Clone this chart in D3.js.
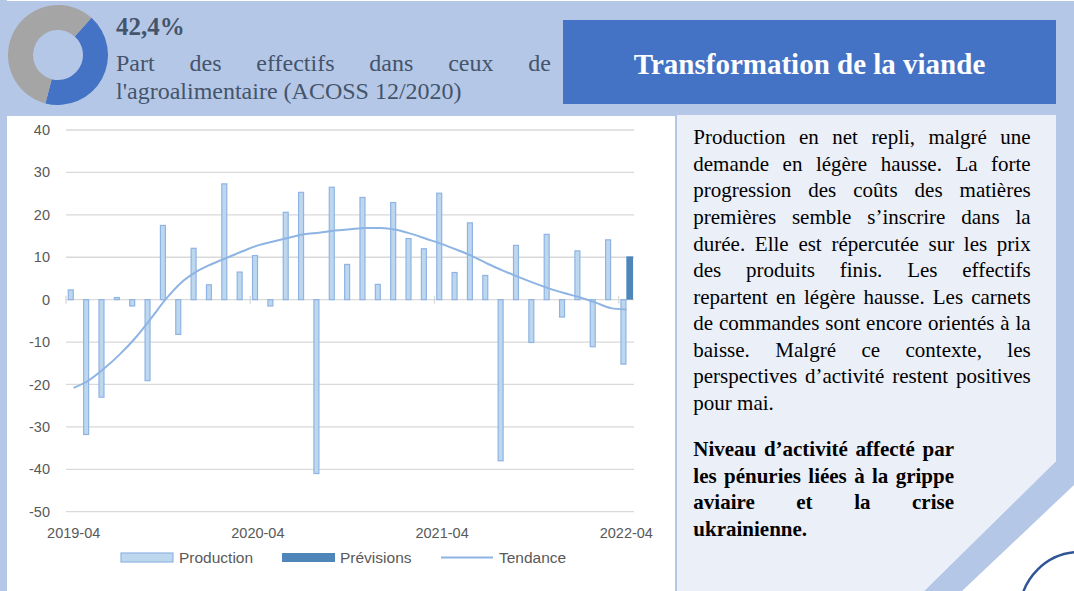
<!DOCTYPE html>
<html><head><meta charset="utf-8">
<script src="https://cdn.jsdelivr.net/npm/d3@7"></script>
<style>html,body{margin:0;padding:0;background:#fff;}svg{display:block;}</style>
</head><body>
<svg id="c" width="1074" height="591"></svg>
<script>
// ---------- DATA ----------
const months = ["2019-04","2019-05","2019-06","2019-07","2019-08","2019-09","2019-10","2019-11","2019-12",
  "2020-01","2020-02","2020-03","2020-04","2020-05","2020-06","2020-07","2020-08","2020-09","2020-10","2020-11","2020-12",
  "2021-01","2021-02","2021-03","2021-04","2021-05","2021-06","2021-07","2021-08","2021-09","2021-10","2021-11","2021-12",
  "2022-01","2022-02","2022-03","2022-04"];
const production = [2.3,-31.8,-23.0,0.5,-1.5,-19.1,17.5,-8.2,12.1,3.5,27.3,6.5,10.4,-1.5,20.6,25.3,-41.0,26.5,8.3,24.1,3.6,22.9,14.4,12.0,25.1,6.4,18.1,5.7,-38.0,12.8,-10.1,15.4,-4.1,11.5,-11.1,14.1,-15.2];
const previsions = [null,null,null,null,null,null,null,null,null,null,null,null,null,null,null,null,null,null,null,null,null,null,null,null,null,null,null,null,null,null,null,null,null,null,null,null,10.2];
const tendance = [-20.8,-19.0,-16.2,-12.9,-9.1,-4.6,0.1,4.0,6.6,8.4,9.9,11.4,12.8,13.7,14.6,15.4,15.8,16.3,16.6,16.9,16.9,16.5,15.5,14.3,13.1,11.7,10.2,8.4,6.8,5.3,3.9,2.6,1.5,0.5,-0.7,-2.0,-2.3];
const xTickLabels = ["2019-04","2020-04","2021-04","2022-04"];
const yTicks = [40,30,20,10,0,-10,-20,-30,-40,-50];
const seriesNames = ["Production","Prévisions","Tendance"];
const donutValues = [42.4, 57.6];
const donutLabel = "42,4%";
const headerLine1 = "Part des effectifs dans ceux de";
const headerLine2 = "l'agroalimentaire (ACOSS 12/2020)";
const title = "Transformation de la viande";
const paragraph = [
  "Production en net repli, malgré une",
  "demande en légère hausse. La forte",
  "progression des coûts des matières",
  "premières semble s’inscrire dans la",
  "durée. Elle est répercutée sur les prix",
  "des produits finis. Les effectifs",
  "repartent en légère hausse. Les carnets",
  "de commandes sont encore orientés à la",
  "baisse. Malgré ce contexte, les",
  "perspectives d’activité restent positives",
  "pour mai."];
const boldParagraph = [
  "Niveau d’activité affecté par",
  "les pénuries liées à la grippe",
  "aviaire et la crise",
  "ukrainienne."];

// ---------- LAYOUT ----------
const svg = d3.select("#c");
const LB = "#b4c7e7", SERIF = "'Liberation Serif','Times New Roman',serif", SANS = "'Liberation Sans',Arial,sans-serif";

// background shapes
svg.append("rect").attr("x",0).attr("y",1).attr("width",1074).attr("height",115).attr("fill",LB);
svg.append("rect").attr("x",0).attr("y",0).attr("width",7).attr("height",591).attr("fill",LB);
// right panel
svg.append("polygon").attr("points","1056,103 1074,103 1074,485 962,591 924,591 1056,461").attr("fill",LB);
svg.append("polygon").attr("points","677,115 1056,115 1056,461 924,591 677,591").attr("fill","#ebeff8");
svg.append("rect").attr("x",675).attr("y",115).attr("width",2).attr("height",476).attr("fill",LB);
// arc decoration
svg.append("circle").attr("cx",1080).attr("cy",612).attr("r",60).attr("fill","none").attr("stroke","#2f5597").attr("stroke-width",2.5);

// title box
svg.append("rect").attr("x",563).attr("y",20).attr("width",493).attr("height",84).attr("fill","#4472c4");
svg.append("text").attr("x",809.5).attr("y",74).attr("text-anchor","middle").attr("font-family",SERIF)
  .attr("font-weight","bold").attr("font-size",29).attr("fill","#fff").text(title);

// donut
const pie = d3.pie().sort(null).startAngle(42*Math.PI/180).endAngle(42*Math.PI/180+2*Math.PI);
const arc = d3.arc().innerRadius(25).outerRadius(50);
svg.append("g").attr("transform","translate(58,55)").selectAll("path").data(pie(donutValues)).join("path")
  .attr("d",arc).attr("fill",(d,i)=>i===0?"#4472c4":"#a5a5a5");
svg.append("text").attr("x",116).attr("y",35).attr("font-family",SERIF).attr("font-weight","bold")
  .attr("font-size",25).attr("fill","#44546a").text(donutLabel);

function justifyLine(g, line, x0, x1, y, size, weight, fill, justify){
  const words = line.split(" ");
  const nodes = words.map(w => g.append("text").attr("y",y).attr("font-family",SERIF).attr("font-size",size)
      .attr("font-weight",weight).attr("fill",fill).text(w));
  const widths = nodes.map(n => n.node().getComputedTextLength());
  const total = d3.sum(widths);
  let gap = size*0.25;
  if (justify && words.length>1) gap = (x1-x0-total)/(words.length-1);
  let x = x0;
  nodes.forEach((n,i)=>{ n.attr("x",x); x += widths[i]+gap; });
}
const hg = svg.append("g");
justifyLine(hg, headerLine1, 116, 551, 71, 24, "normal", "#44546a", true);
justifyLine(hg, headerLine2, 116, 551, 99, 24, "normal", "#44546a", false);

const pg = svg.append("g");
paragraph.forEach((l,i)=>justifyLine(pg, l, 693.3, 1030.7, 144.3+i*26.57, 21, "normal", "#000", i<paragraph.length-1));
boldParagraph.forEach((l,i)=>justifyLine(pg, l, 693.3, 954, 456+i*26.57, 21, "bold", "#000", i<boldParagraph.length-1));

// ---------- CHART ----------
const x0 = d3.scaleBand().domain(months).range([66,634]).padding(0);
const x1 = d3.scaleBand().domain(["Production","Prévisions"]).range([0,x0.bandwidth()]).paddingInner(0).paddingOuter(0.33);
const y = d3.scaleLinear().domain([-50,40]).range([511.7,130]);
const cg = svg.append("g");

// gridlines
cg.selectAll("line.grid").data(yTicks).join("line").attr("class","grid")
  .attr("x1",66).attr("x2",634).attr("y1",d=>y(d)).attr("y2",d=>y(d))
  .attr("stroke","#d9d9d9").attr("stroke-width",1.3);
// y labels
cg.selectAll("text.yl").data(yTicks).join("text").attr("class","yl")
  .attr("x",50).attr("y",d=>y(d)).attr("dy","0.35em").attr("text-anchor","end")
  .attr("font-family",SANS).attr("font-size",14.5).attr("fill","#595959").text(d=>d);
// category tick marks
const tickIdx = xTickLabels.map(l=>months.indexOf(l));
cg.selectAll("line.tk").data(tickIdx).join("line").attr("class","tk")
  .attr("x1",i=>x0(months[i])).attr("x2",i=>x0(months[i])).attr("y1",y(0)-4).attr("y2",y(0)+4)
  .attr("stroke","#d9d9d9").attr("stroke-width",1.3);
// x labels
cg.selectAll("text.xl").data(xTickLabels).join("text").attr("class","xl")
  .attr("x",d=>x0(d)+x0.bandwidth()/2).attr("y",538).attr("text-anchor","middle")
  .attr("font-family",SANS).attr("font-size",14.5).attr("fill","#595959").text(d=>d);

// bars
const bw = x1.bandwidth();
cg.selectAll("rect.prod").data(production.map((v,i)=>({m:months[i],v}))).join("rect").attr("class","prod")
  .attr("x",d=>x0(d.m)+x1("Production")+0.4).attr("width",bw-0.8)
  .attr("y",d=>y(Math.max(0,d.v))).attr("height",d=>Math.abs(y(d.v)-y(0)))
  .attr("fill","#bdd7ee").attr("stroke","#8fb4e3").attr("stroke-width",1.2);
cg.selectAll("rect.prev").data(previsions.map((v,i)=>({m:months[i],v})).filter(d=>d.v!==null)).join("rect").attr("class","prev")
  .attr("x",d=>x0(d.m)+x1("Prévisions")).attr("width",bw+1)
  .attr("y",d=>y(Math.max(0,d.v))).attr("height",d=>Math.abs(y(d.v)-y(0)))
  .attr("fill","#4f86ba");
// trend
const line = d3.line().x((d,i)=>x0(months[i])+x0.bandwidth()/2).y(d=>y(d)).curve(d3.curveMonotoneX);
cg.append("path").datum(tendance).attr("d",line).attr("fill","none").attr("stroke","#8eb4e3").attr("stroke-width",2);

// legend
const lg = svg.append("g").attr("font-family",SANS).attr("font-size",15.5).attr("fill","#595959");
lg.append("rect").attr("x",121).attr("y",553).attr("width",52).attr("height",9).attr("fill","#bdd7ee").attr("stroke","#8fb4e3").attr("stroke-width",1.2);
lg.append("text").attr("x",179).attr("y",558).attr("dy","0.35em").text(seriesNames[0]);
lg.append("rect").attr("x",282).attr("y",553).attr("width",53).attr("height",9).attr("fill","#4f86ba");
lg.append("text").attr("x",340).attr("y",558).attr("dy","0.35em").text(seriesNames[1]);
lg.append("line").attr("x1",441).attr("x2",493).attr("y1",557.5).attr("y2",557.5).attr("stroke","#8eb4e3").attr("stroke-width",2);
lg.append("text").attr("x",499).attr("y",558).attr("dy","0.35em").text(seriesNames[2]);
</script>
</body></html>
